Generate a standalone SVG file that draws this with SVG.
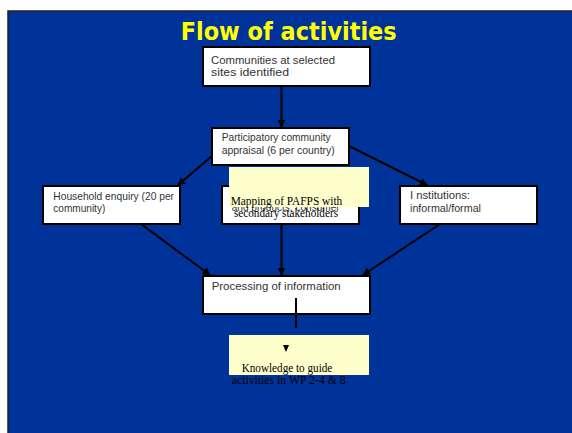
<svg xmlns="http://www.w3.org/2000/svg" width="572" height="433" viewBox="0 0 572 433">
<style>
.bx{fill:#fff;stroke:#000;stroke-width:2}
.yl{fill:#ffffcc;stroke:none}
.t{font-family:"Liberation Sans",Arial,sans-serif;font-size:10.5px;fill:#333}
.s{font-family:"Liberation Serif","Times New Roman",serif;font-size:12.5px;fill:#000}
.c{stroke:#000;stroke-width:2;fill:none}
</style>
<defs>
<marker id="ah" viewBox="0 0 10 10" refX="9" refY="5" markerWidth="4" markerHeight="4" orient="auto" markerUnits="strokeWidth">
<path d="M0,0 L10,5 L0,10 z" fill="#000"/>
</marker>
</defs>
<rect x="0" y="0" width="572" height="433" fill="#fff"/>
<rect x="8" y="11" width="566" height="424" fill="#003399" stroke="#222" stroke-width="1.5"/>
<text x="288.7" y="39.5" text-anchor="middle" font-family="'DejaVu Sans',Verdana,sans-serif" font-weight="bold" font-size="24" fill="#ffff00" textLength="216" lengthAdjust="spacingAndGlyphs">Flow of activities</text>

<g id="connectors">
<line class="c" x1="281.5" y1="86" x2="281.5" y2="127" marker-end="url(#ah)"/>
<line class="c" x1="212" y1="156" x2="178" y2="185" marker-end="url(#ah)"/>
<line class="c" x1="349" y1="146" x2="427" y2="185" marker-end="url(#ah)"/>
<line class="c" x1="141" y1="224" x2="210" y2="275" marker-end="url(#ah)"/>
<line class="c" x1="281.5" y1="224" x2="281.5" y2="275" marker-end="url(#ah)"/>
<line class="c" x1="440" y1="224" x2="363" y2="275" marker-end="url(#ah)"/>
</g>

<g id="n-communities">
<rect class="bx" x="203" y="47" width="167" height="39"/>
<text class="t" x="211" y="64" textLength="124" lengthAdjust="spacingAndGlyphs">Communities at selected</text>
<text class="t" x="211" y="76" textLength="78" lengthAdjust="spacingAndGlyphs">sites identified</text>
</g>

<g id="n-participatory">
<rect class="bx" x="212" y="128" width="137" height="37"/>
<text class="t" x="221.7" y="141" textLength="109" lengthAdjust="spacingAndGlyphs">Participatory community</text>
<text class="t" x="221.7" y="154" textLength="113" lengthAdjust="spacingAndGlyphs">appraisal (6 per country)</text>
</g>

<g id="n-household">
<rect class="bx" x="43" y="186" width="137" height="38"/>
<text class="t" x="53.3" y="199.5" textLength="120.7" lengthAdjust="spacingAndGlyphs">Household enquiry (20 per</text>
<text class="t" x="53.3" y="211.5" textLength="52" lengthAdjust="spacingAndGlyphs">community)</text>
</g>

<g id="n-mapping">
<rect class="bx" x="222" y="186" width="137" height="38"/>
<text class="t" x="231.7" y="211" textLength="108" lengthAdjust="spacingAndGlyphs">and products, consumer</text>
<rect class="yl" x="229" y="167" width="140" height="40"/>
<text class="s" x="230.7" y="205" textLength="111.6" lengthAdjust="spacingAndGlyphs">Mapping of PAFPS with</text>
<text class="s" x="234" y="216.5" textLength="104" lengthAdjust="spacingAndGlyphs">secondary stakeholders</text>
</g>

<g id="n-institutions">
<rect class="bx" x="400" y="186" width="137" height="38"/>
<text class="t" x="410" y="198.5" textLength="60" lengthAdjust="spacingAndGlyphs">I nstitutions:</text>
<text class="t" x="410" y="211.5" textLength="71" lengthAdjust="spacingAndGlyphs">informal/formal</text>
</g>

<g id="n-processing">
<rect class="bx" x="203" y="276" width="167" height="38"/>
<text class="t" x="211.7" y="289.5" textLength="129" lengthAdjust="spacingAndGlyphs">Processing of information</text>
</g>

<g id="n-knowledge">
<rect class="yl" x="229" y="335" width="140" height="40"/>
<text class="s" x="241.7" y="371.5" textLength="90.6" lengthAdjust="spacingAndGlyphs">Knowledge to guide</text>
<text class="s" x="231.7" y="384" textLength="114" lengthAdjust="spacingAndGlyphs">activities in WP 2-4 &amp; 8</text>
</g>

<g id="connector-knowledge">
<line class="c" x1="296" y1="298" x2="296" y2="328"/>
<path d="M283,345 L289,345 L286,352 z" fill="#000"/>
</g>
</svg>
